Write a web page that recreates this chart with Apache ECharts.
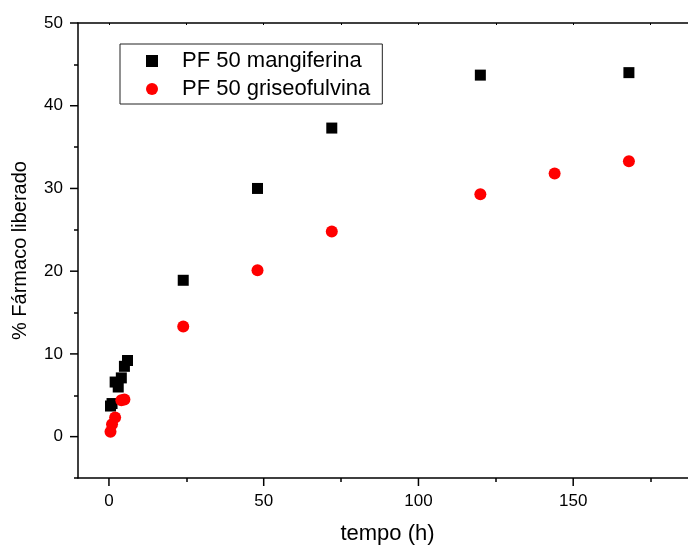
<!DOCTYPE html>
<html>
<head>
<meta charset="utf-8">
<script src="https://cdn.jsdelivr.net/npm/echarts@6/dist/echarts.min.js"></script>
<style>
html,body{margin:0;padding:0;background:#fff;}
#chart{width:688px;height:547px;}
</style>
</head>
<body>
<div id="chart"></div>
<script>
const seriesNames = ['PF 50 mangiferina', 'PF 50 griseofulvina'];
const mangTime = [0.5, 1, 2, 3, 4, 5, 6, 24, 48, 72, 120, 168];
const mangVal = [3.7, 4.0, 6.6, 6.0, 7.1, 8.5, 9.2, 18.9, 30.0, 37.3, 43.7, 44.0];
const grisTime = [0.5, 1, 2, 4, 5, 24, 48, 72, 120, 144, 168];
const grisVal = [0.6, 1.5, 2.3, 4.4, 4.5, 13.3, 20.1, 24.8, 29.3, 31.8, 33.3];
const xMajor = [0, 50, 100, 150];
const yMajor = [0, 10, 20, 30, 40, 50];
const xMinor = [25, 75, 125, 175];
const yMinor = [-5, 5, 15, 25, 35, 45];
const xTop = [0, 25, 50, 75, 100, 125, 150, 175];
const xTitle = 'tempo (h)';
const yTitle = '% Fármaco liberado';

const FONT = '"Liberation Sans", Arial, sans-serif';
const pair = (xs, ys) => xs.map((x, i) => [x, ys[i]]);
const X_MIN = -10, X_MAX = 190, Y_MIN = -5, Y_MAX = 50;
const gridBox = {left: 78, top: 23, right: -9, bottom: 69, outerBoundsMode: 'none', containLabel: false};
const axisLineStyle = {color: '#000', width: 1.5};
const MAJOR_LEN = 8;

function minorTickAxis(gridIndex, position, min, max, values, len) {
  return {
    type: 'value', gridIndex: gridIndex, position: position, min: min, max: max,
    axisLine: {show: false, onZero: false},
    axisTick: {show: true, inside: false, length: len, customValues: values, lineStyle: axisLineStyle},
    axisLabel: {show: false},
    splitLine: {show: false}
  };
}

const chart = echarts.init(document.getElementById('chart'), null, {renderer: 'canvas'});
chart.setOption({
  animation: false,
  backgroundColor: '#fff',
  grid: [
    Object.assign({}, gridBox),
    Object.assign({}, gridBox)
  ],
  legend: {
    orient: 'vertical',
    left: 120, top: 44,
    padding: [6, 12, 4, 26],
    itemWidth: 12, itemHeight: 12, itemGap: 6,
    borderColor: '#222', borderWidth: 1,
    textStyle: {fontFamily: FONT, fontSize: 22, color: '#000', padding: [0, 0, 0, 19]},
    data: [
      {name: seriesNames[0], icon: 'rect'},
      {name: seriesNames[1], icon: 'circle'}
    ]
  },
  xAxis: [
    {
      type: 'value', gridIndex: 0, position: 'bottom', min: X_MIN, max: X_MAX,
      name: xTitle, nameLocation: 'middle', nameGap: 45,
      nameTextStyle: {fontFamily: FONT, fontSize: 22, color: '#000'},
      axisLine: {show: true, onZero: false, lineStyle: axisLineStyle},
      axisTick: {show: false},
      axisLabel: {show: true, margin: 15, customValues: xMajor, fontFamily: FONT, fontSize: 17, color: '#000'},
      splitLine: {show: false}
    },
    {
      type: 'value', gridIndex: 0, position: 'top', min: X_MIN, max: X_MAX,
      axisLine: {show: true, onZero: false, lineStyle: axisLineStyle},
      axisTick: {show: true, inside: true, length: 2, customValues: xTop, lineStyle: {color: '#000', width: 1}},
      axisLabel: {show: false},
      splitLine: {show: false}
    },
    minorTickAxis(1, 'bottom', X_MIN, X_MAX, xMinor, 4)
  ],
  yAxis: [
    {
      type: 'value', gridIndex: 0, position: 'left', min: Y_MIN, max: Y_MAX,
      name: yTitle, nameLocation: 'middle', nameGap: 48,
      nameTextStyle: {fontFamily: FONT, fontSize: 20, color: '#000'},
      axisLine: {show: true, onZero: false, lineStyle: axisLineStyle},
      axisTick: {show: false},
      axisLabel: {show: true, margin: 15, customValues: yMajor, fontFamily: FONT, fontSize: 17, color: '#000'},
      splitLine: {show: false}
    },
    minorTickAxis(1, 'left', Y_MIN, Y_MAX, yMinor, 4)
  ],
  series: [
    {
      name: seriesNames[0], type: 'scatter', xAxisIndex: 0, yAxisIndex: 0,
      symbol: 'rect', symbolSize: 11,
      itemStyle: {color: '#000', opacity: 1},
      data: pair(mangTime, mangVal), z: 3
    },
    {
      name: seriesNames[1], type: 'scatter', xAxisIndex: 0, yAxisIndex: 0,
      symbol: 'circle', symbolSize: 12,
      itemStyle: {color: '#ff0000', opacity: 1},
      data: pair(grisTime, grisVal), z: 4
    }
  ]
});

// Major (labelled) ticks: positioned through the chart's own axis scales.
const xToPx = v => chart.convertToPixel({xAxisIndex: 0}, v);
const yToPx = v => chart.convertToPixel({yAxisIndex: 0}, v);
const axisY = yToPx(Y_MIN);
const axisX = xToPx(X_MIN);
const tickShapes = [];
xMajor.forEach(v => {
  const px = xToPx(v);
  tickShapes.push({type: 'line', z: 100, silent: true,
    shape: {x1: px, y1: axisY, x2: px, y2: axisY + MAJOR_LEN},
    style: {stroke: '#000', lineWidth: 1.5}});
});
yMajor.forEach(v => {
  const py = yToPx(v);
  tickShapes.push({type: 'line', z: 100, silent: true,
    shape: {x1: axisX - MAJOR_LEN, y1: py, x2: axisX, y2: py},
    style: {stroke: '#000', lineWidth: 1.5}});
});
chart.setOption({graphic: {elements: tickShapes}});
</script>
</body>
</html>
